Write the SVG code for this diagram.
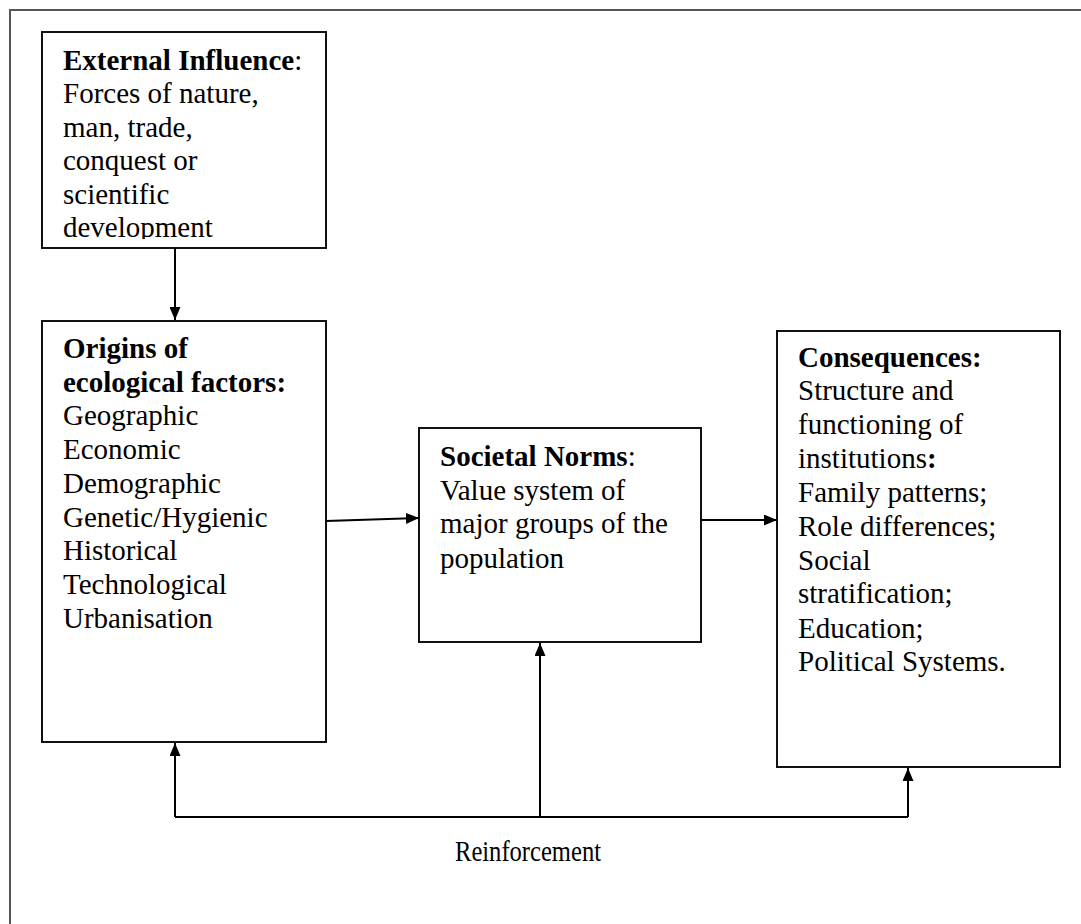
<svg xmlns="http://www.w3.org/2000/svg" width="1081" height="924" viewBox="0 0 1081 924">
<style>
.box{fill:#fff;stroke:#111;stroke-width:2}
.t{font-family:"Liberation Serif","Times New Roman",serif;font-size:29px;fill:#000}
.b{font-weight:bold}
.c{fill:none;stroke:#000;stroke-width:2}
</style>
<defs>
<marker id="ah" viewBox="0 0 13 11" refX="13" refY="5.5" markerWidth="13" markerHeight="11" markerUnits="userSpaceOnUse" orient="auto">
<path d="M0,0 L13,5.5 L0,11 z" fill="#000"/>
</marker>
<clipPath id="clip1"><rect x="42" y="32" width="284" height="207"/></clipPath>
</defs>
<rect width="1081" height="924" fill="#fff"/>
<path d="M10,924 L10,10 L1081,10" fill="none" stroke="#555" stroke-width="2"/>

<g id="external">
<rect class="box" x="42" y="32" width="284" height="216"/>
<g clip-path="url(#clip1)">
<text class="t" x="63" y="70"><tspan class="b">External Influence</tspan>:</text>
<text class="t" x="63" y="103">Forces of nature,</text>
<text class="t" x="63" y="137">man, trade,</text>
<text class="t" x="63" y="170">conquest or</text>
<text class="t" x="63" y="204">scientific</text>
<text class="t" x="63" y="237">development</text>
</g>
</g>

<g id="origins">
<rect class="box" x="42" y="321" width="284" height="421"/>
<text class="t b" x="63" y="358">Origins of</text>
<text class="t b" x="63" y="392">ecological factors:</text>
<text class="t" x="63" y="425">Geographic</text>
<text class="t" x="63" y="459">Economic</text>
<text class="t" x="63" y="493">Demographic</text>
<text class="t" x="63" y="527">Genetic/Hygienic</text>
<text class="t" x="63" y="560">Historical</text>
<text class="t" x="63" y="594">Technological</text>
<text class="t" x="63" y="628">Urbanisation</text>
</g>

<g id="norms">
<rect class="box" x="419" y="428" width="282" height="214"/>
<text class="t" x="440" y="466"><tspan class="b">Societal Norms</tspan>:</text>
<text class="t" x="440" y="500">Value system of</text>
<text class="t" x="440" y="533">major groups of the</text>
<text class="t" x="440" y="568">population</text>
</g>

<g id="consequences">
<rect class="box" x="777" y="331" width="283" height="436"/>
<text class="t b" x="798" y="367">Consequences:</text>
<text class="t" x="798" y="400">Structure and</text>
<text class="t" x="798" y="434">functioning of</text>
<text class="t" x="798" y="468">institutions<tspan class="b">:</tspan></text>
<text class="t" x="798" y="502">Family patterns;</text>
<text class="t" x="798" y="536">Role differences;</text>
<text class="t" x="798" y="570">Social</text>
<text class="t" x="798" y="603">stratification;</text>
<text class="t" x="798" y="638">Education;</text>
<text class="t" x="798" y="671">Political Systems.</text>
</g>

<g id="connectors">
<line class="c" x1="175" y1="248" x2="175" y2="320" marker-end="url(#ah)"/>
<line class="c" x1="326" y1="521" x2="419" y2="518" marker-end="url(#ah)"/>
<line class="c" x1="701" y1="520" x2="777" y2="520" marker-end="url(#ah)"/>
<polyline class="c" points="175,817 908,817"/>
<line class="c" x1="175" y1="817" x2="175" y2="743" marker-end="url(#ah)"/>
<line class="c" x1="540" y1="817" x2="540" y2="643" marker-end="url(#ah)"/>
<line class="c" x1="908" y1="817" x2="908" y2="768" marker-end="url(#ah)"/>
</g>

<text id="reinforcement" class="t" x="455" y="861" textLength="146" lengthAdjust="spacingAndGlyphs">Reinforcement</text>
</svg>
